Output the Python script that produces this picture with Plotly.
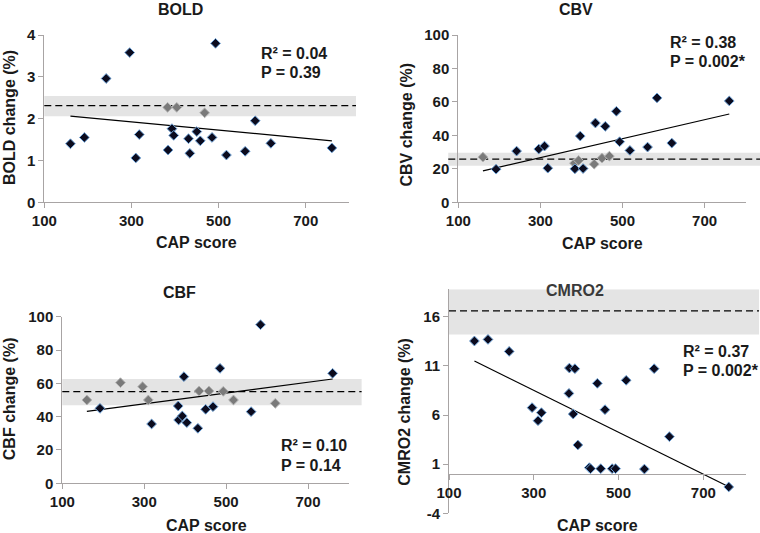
import plotly.graph_objects as go

# ---------------- data ----------------
cap_score = [160, 192, 242, 296, 310, 318, 383, 384, 393, 397, 404, 431,
             434, 450, 458, 468, 485, 493, 518, 561, 584, 620, 760]

bold_change = [1.40, 1.55, 2.96, 3.58, 1.06, 1.62, 2.27, 1.25, 1.76, 1.60, 2.27, 1.52,
               1.17, 1.69, 1.47, 2.14, 1.55, 3.80, 1.13, 1.22, 1.95, 1.41, 1.30]
cbv_change = [27.0, 19.8, 30.6, 31.8, 33.6, 20.4, 23.4, 20.0, 25.0, 39.6, 20.2, 22.8,
              47.4, 26.4, 45.4, 27.6, 54.4, 36.2, 31.0, 33.0, 62.4, 35.4, 60.6]
cbf_change = [50.0, 45.0, 60.4, 58.0, 50.0, 35.6, 46.4, 38.0, 40.4, 64.0, 36.4, 33.0,
              55.4, 44.4, 55.4, 46.0, 69.0, 55.2, 50.0, 43.0, 95.2, 48.0, 66.0]
cmro2_change = [13.53, 13.69, 12.47, 6.75, 5.42, 6.24, 8.20, 10.78, 6.10, 10.71, 2.95, 0.64,
                0.54, 9.22, 0.54, 6.54, 0.54, 0.54, 9.53, 0.50, 10.71, 3.80, -1.32]

# control group: mean, lower bound, upper bound of the grey band
bold_ctrl = [2.31, 2.06, 2.54]
cbv_ctrl = [25.8, 21.8, 29.6]
cbf_ctrl = [55.0, 46.8, 62.6]
cmro2_ctrl = [16.6, 14.2, 18.8]

# regression line values at min / max CAP score
bold_trend = [2.06, 1.47]
cbv_trend = [18.8, 52.8]
cbf_trend = [43.2, 62.6]
cmro2_trend = [11.5, -1.3]

bold_stats = ["R² = 0.04", "P = 0.39"]
cbv_stats = ["R² = 0.38", "P = 0.002*"]
cbf_stats = ["R² = 0.10", "P = 0.14"]
cmro2_stats = ["R² = 0.37", "P = 0.002*"]

x_tickvals = [100, 300, 500, 700]
bold_yticks = [0, 1, 2, 3, 4]
cbv_yticks = [0, 20, 40, 60, 80, 100]
cbf_yticks = [0, 20, 40, 60, 80, 100]
cmro2_yticks = [-4, 1, 6, 11, 16]

# ---------------- layout helpers ----------------
W, H = 760, 533


def px(x):
    return x / W


def py(y):
    return 1 - y / H


FONT = "Liberation Sans, Arial, sans-serif"
TXT = "#1a1a1a"
AXC = "#a8a4a4"
BAND = "#e4e4e4"
DARK_FILL, DARK_EDGE = "#0b0b1e", "#6fa3d8"
GREY_FILL, GREY_EDGE = "#7a7a7a", "#b4b4b4"

panels = [
    dict(name="BOLD", vals=bold_change, ctrl=bold_ctrl, trend=bold_trend, stats=bold_stats,
         ylabel="BOLD change (%)", yrange=[0, 4], yticks=bold_yticks,
         xd=(44.3, 349.3), yd=(202.3, 35.0), band_x=(0.0, 1.022),
         title_xy=(180, 9), ylab_xy=(9.5, 117.5), xlab_xy=(197, 242.5),
         stats_xy=(259, 53, 72), title_color=TXT, xpos=None),
    dict(name="CBV", vals=cbv_change, ctrl=cbv_ctrl, trend=cbv_trend, stats=cbv_stats,
         ylabel="CBV change (%)", yrange=[0, 100], yticks=cbv_yticks,
         xd=(458.3, 745.7), yd=(202.3, 35.0), band_x=(-0.035, 1.06),
         title_xy=(575.8, 9), ylab_xy=(406.5, 125), xlab_xy=(602, 243),
         stats_xy=(667.5, 42, 62), title_color=TXT, xpos=None),
    dict(name="CBF", vals=cbf_change, ctrl=cbf_ctrl, trend=cbf_trend, stats=cbf_stats,
         ylabel="CBF change (%)", yrange=[0, 100], yticks=cbf_yticks,
         xd=(62.3, 349.0), yd=(483.3, 316.7), band_x=(0.0, 1.044),
         title_xy=(179, 292), ylab_xy=(9.2, 399), xlab_xy=(206, 525),
         stats_xy=(278.5, 445, 465), title_color=TXT, xpos=None),
    dict(name="CMRO2", vals=cmro2_change, ctrl=cmro2_ctrl, trend=cmro2_trend, stats=cmro2_stats,
         ylabel="CMRO2 change (%)", yrange=[-4, 18.8], yticks=cmro2_yticks,
         xd=(449.0, 745.7), yd=(513.3, 289.2), band_x=(0.0, 1.045),
         title_xy=(575, 290.5), ylab_xy=(405, 411.7), xlab_xy=(597, 525),
         stats_xy=(681, 351.7, 370.7), title_color="#3a3a3a", xpos=473.6),
]

fig = go.Figure()
shapes, annotations = [], []
layout_axes = {}

for i, p in enumerate(panels, start=1):
    sfx = "" if i == 1 else str(i)
    xa, ya = "x" + sfx, "y" + sfx
    lo, hi = p["ctrl"][1], p["ctrl"][2]
    fills = [GREY_FILL if lo <= v <= hi else DARK_FILL for v in p["vals"]]
    edges = [GREY_EDGE if lo <= v <= hi else DARK_EDGE for v in p["vals"]]

    # regression line
    fig.add_trace(go.Scatter(
        x=[min(cap_score), max(cap_score)], y=p["trend"], mode="lines",
        line=dict(color="#000000", width=1.2), xaxis=xa, yaxis=ya,
        showlegend=False, hoverinfo="skip"))
    # subjects
    fig.add_trace(go.Scatter(
        x=cap_score, y=p["vals"], mode="markers", xaxis=xa, yaxis=ya,
        marker=dict(symbol="diamond", size=7.5, color=fills,
                    line=dict(color=edges, width=1)),
        showlegend=False, cliponaxis=False))

    # control band and mean
    shapes.append(dict(type="rect", xref=xa + " domain", yref=ya,
                       x0=p["band_x"][0], x1=p["band_x"][1], y0=lo, y1=hi,
                       fillcolor=BAND, line=dict(width=0), layer="below"))
    shapes.append(dict(type="line", xref=xa + " domain", yref=ya,
                       x0=p["band_x"][0], x1=p["band_x"][1],
                       y0=p["ctrl"][0], y1=p["ctrl"][0],
                       line=dict(color="#000000", width=1.3, dash="7px,4px"),
                       layer="below"))

    tickfont = dict(size=15, color=TXT, family=FONT, weight="bold")
    xaxis = dict(domain=[px(p["xd"][0]), px(p["xd"][1])], range=[100, 800],
                 tickvals=x_tickvals, showline=True, linecolor=AXC, linewidth=1,
                 ticks="outside", ticklen=5, tickcolor=AXC, showgrid=False,
                 zeroline=False, automargin=False, tickfont=tickfont)
    if p["xpos"] is None:
        xaxis["anchor"] = ya
    else:
        xaxis["anchor"] = "free"
        xaxis["position"] = py(p["xpos"])
    yaxis = dict(domain=[py(p["yd"][0]), py(p["yd"][1])], range=p["yrange"],
                 tickvals=p["yticks"], ticktext=[str(v) for v in p["yticks"]],
                 anchor=xa,
                 showline=True, linecolor=AXC, linewidth=1, ticks="outside",
                 ticklen=5, tickcolor=AXC, showgrid=False, zeroline=False,
                 automargin=False, tickfont=tickfont)
    layout_axes["xaxis" + sfx] = xaxis
    layout_axes["yaxis" + sfx] = yaxis

    bold16 = dict(size=16, color=TXT, family=FONT, weight="bold")
    annotations.append(dict(text=p["name"], x=px(p["title_xy"][0]), y=py(p["title_xy"][1]),
                            xref="paper", yref="paper", showarrow=False,
                            xanchor="center", yanchor="middle",
                            font=dict(size=16, color=p["title_color"], family=FONT,
                                      weight="bold")))
    annotations.append(dict(text=p["ylabel"], x=px(p["ylab_xy"][0]), y=py(p["ylab_xy"][1]),
                            xref="paper", yref="paper", showarrow=False, textangle=-90,
                            xanchor="center", yanchor="middle", font=bold16))
    annotations.append(dict(text="CAP score", x=px(p["xlab_xy"][0]), y=py(p["xlab_xy"][1]),
                            xref="paper", yref="paper", showarrow=False,
                            xanchor="center", yanchor="middle", font=bold16))
    sx, sy1, sy2 = p["stats_xy"]
    for txt, yy in zip(p["stats"], (sy1, sy2)):
        annotations.append(dict(text=txt, x=px(sx), y=py(yy), xref="paper", yref="paper",
                                showarrow=False, xanchor="left", yanchor="middle",
                                font=bold16))

fig.update_layout(
    width=W, height=H, margin=dict(l=0, r=0, t=0, b=0, autoexpand=False),
    paper_bgcolor="white", plot_bgcolor="white",
    font=dict(family=FONT, color=TXT),
    shapes=shapes, annotations=annotations, showlegend=False,
    **layout_axes)

fig.write_html("out.html", config={"displayModeBar": False},
               post_script="document.body.style.margin='0';document.body.style.overflow='hidden';")
